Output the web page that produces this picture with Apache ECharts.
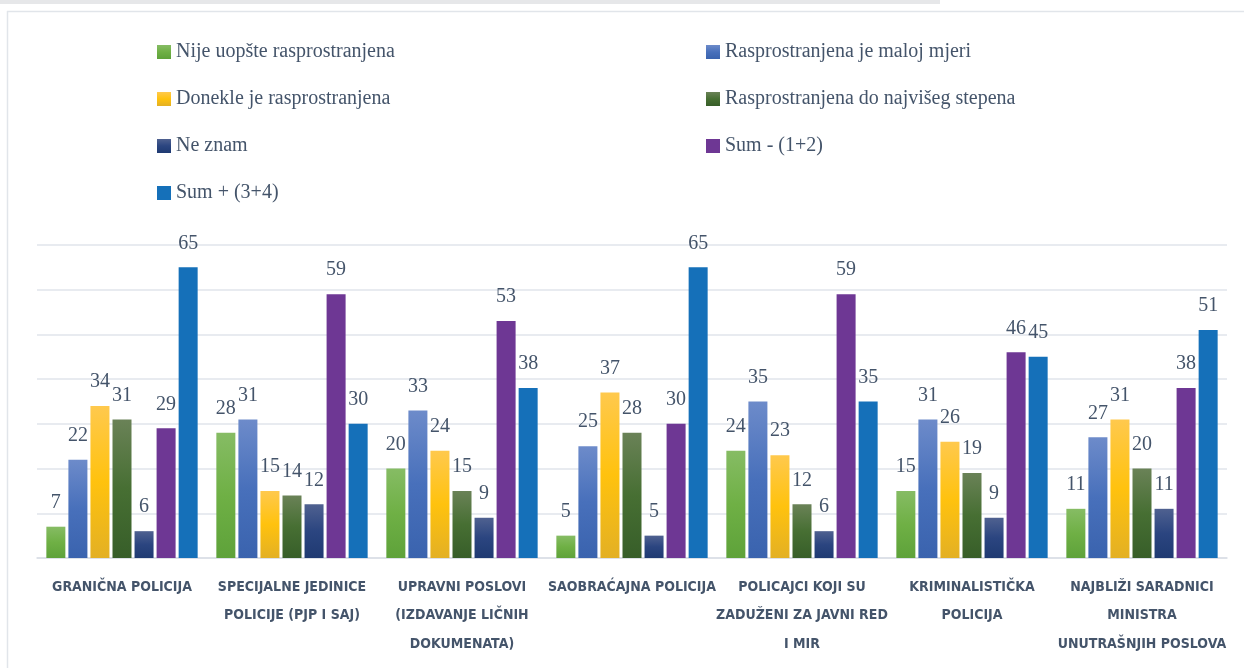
<!DOCTYPE html>
<html>
<head>
<meta charset="utf-8">
<script src="https://cdn.jsdelivr.net/npm/echarts@6/dist/echarts.min.js"></script>
<style>
  html, body { margin: 0; padding: 0; background: #fff; }
  #chart { width: 1244px; height: 668px; }
</style>
</head>
<body>
<div id="chart"></div>
<script>
const categories = [
  'GRANIČNA POLICIJA',
  'SPECIJALNE JEDINICE\nPOLICIJE (PJP I SAJ)',
  'UPRAVNI POSLOVI\n(IZDAVANJE LIČNIH\nDOKUMENATA)',
  'SAOBRAĆAJNA POLICIJA',
  'POLICAJCI KOJI SU\nZADUŽENI ZA JAVNI RED\nI MIR',
  'KRIMINALISTIČKA\nPOLICIJA',
  'NAJBLIŽI SARADNICI\nMINISTRA\nUNUTRAŠNJIH POSLOVA'
];
const seriesNames = [
  'Nije uopšte rasprostranjena',
  'Rasprostranjena je maloj mjeri',
  'Donekle je rasprostranjena',
  'Rasprostranjena do najvišeg stepena',
  'Ne znam',
  'Sum - (1+2)',
  'Sum + (3+4)'
];
const nijeUopste = [7, 28, 20, 5, 24, 15, 11];
const malojMjeri = [22, 31, 33, 25, 35, 31, 27];
const donekle = [34, 15, 24, 37, 23, 26, 31];
const najvisegStepena = [31, 14, 15, 28, 12, 19, 20];
const neZnam = [6, 12, 9, 5, 6, 9, 11];
const sumMinus = [29, 59, 53, 30, 59, 46, 38];
const sumPlus = [65, 30, 38, 65, 35, 45, 51];

const values = [nijeUopste, malojMjeri, donekle, najvisegStepena, neZnam, sumMinus, sumPlus];

const grad = (top, mid, bottom) => new echarts.graphic.LinearGradient(0, 0, 0, 1, [
  { offset: 0, color: top },
  { offset: 0.5, color: mid },
  { offset: 1, color: bottom }
]);
const colors = [
  grad('#86bc64', '#6fb045', '#5ea23a'),
  grad('#6d8bca', '#4870bb', '#3a63ae'),
  grad('#ffc94d', '#ffc20e', '#e3b024'),
  grad('#6a8257', '#476f33', '#375e29'),
  grad('#4f6190', '#2b4580', '#1f3a72'),
  '#6e3794',
  '#1570b9'
];

const textColor = '#44546a';
const serif = '"Liberation Serif", "DejaVu Serif", serif';

const chart = echarts.init(document.getElementById('chart'));

const legendBase = {
  orient: 'vertical',
  top: 42,
  padding: 0,
  itemWidth: 14,
  itemHeight: 14,
  itemGap: 27,
  icon: 'rect',
  selectedMode: false,
  textStyle: { fontFamily: serif, fontSize: 20, color: textColor, lineHeight: 20 }
};

chart.setOption({
  animation: false,
  graphic: [
    { type: 'rect', left: 0, top: 0, shape: { width: 940, height: 4 }, style: { fill: '#e6e7e9' } },
    { type: 'line', shape: { x1: 7, y1: 11.5, x2: 1244, y2: 11.5 }, style: { stroke: '#e1e5ea', lineWidth: 1.5 } },
    { type: 'line', shape: { x1: 7.5, y1: 11, x2: 7.5, y2: 668 }, style: { stroke: '#e1e5ea', lineWidth: 1.5 } }
  ],
  legend: [
    Object.assign({}, legendBase, { left: 157, data: [seriesNames[0], seriesNames[2], seriesNames[4], seriesNames[6]] }),
    Object.assign({}, legendBase, { left: 706, data: [seriesNames[1], seriesNames[3], seriesNames[5]] })
  ],
  grid: { left: 37, right: 17, top: 245, bottom: 110, containLabel: false },
  xAxis: {
    type: 'category',
    data: categories,
    axisLine: { lineStyle: { color: '#d9dee5', width: 1.5 } },
    axisTick: { show: false },
    axisLabel: {
      interval: 0,
      margin: 15,
      color: textColor,
      fontFamily: '"Liberation Sans Narrow", "DejaVu Sans Condensed", sans-serif',
      fontWeight: 'bold',
      fontSize: 14,
      lineHeight: 28.5
    }
  },
  yAxis: {
    type: 'value',
    min: 0,
    max: 70,
    interval: 10,
    axisLabel: { show: false },
    axisLine: { show: false },
    axisTick: { show: false },
    splitLine: { lineStyle: { color: '#e1e5eb', width: 1.5 } }
  },
  series: values.map((arr, i) => ({
    name: seriesNames[i],
    type: 'bar',
    data: arr,
    barGap: '16%',
    barCategoryGap: '11%',
    itemStyle: { color: colors[i] },
    label: {
      show: true,
      position: 'top',
      distance: 14,
      fontFamily: serif,
      fontSize: 20,
      color: textColor
    }
  }))
});
</script>
</body>
</html>
